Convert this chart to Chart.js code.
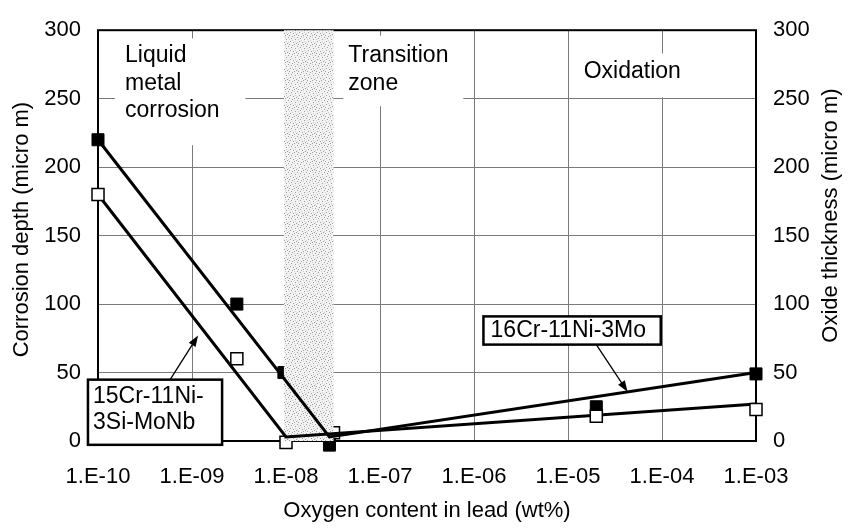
<!DOCTYPE html>
<html>
<head>
<meta charset="utf-8">
<script src="https://cdn.jsdelivr.net/npm/chart.js@4.4.1/dist/chart.umd.min.js"></script>
<style>
  html, body { margin: 0; padding: 0; background: #fff; }
  #wrap { width: 848px; height: 531px; }
</style>
</head>
<body>
<div id="wrap"><canvas id="chart"></canvas></div>
<script>
// valori: ossigeno (wt%) sull'asse x, profondita' (micro m) sugli assi y
const xTicks = [1e-10, 1e-9, 1e-8, 1e-7, 1e-6, 1e-5, 1e-4, 1e-3];
const xTickLabels = ['1.E-10', '1.E-09', '1.E-08', '1.E-07', '1.E-06', '1.E-05', '1.E-04', '1.E-03'];
const yTicks = [0, 50, 100, 150, 200, 250, 300];

// 16Cr-11Ni-3Mo (quadrati pieni)
const moX = [1e-10, 3e-9, 9.5e-9, 2.9e-8, 2e-5, 1e-3];
const moY = [220, 100, 50, -3, 25, 49];
// 15Cr-11Ni-3Si-MoNb (quadrati vuoti)
const nbX = [1e-10, 3e-9, 1e-8, 3.2e-8, 2e-5, 1e-3];
const nbY = [180, 60, -1, 6, 18, 23];

// linee di tendenza
const moTrendX = [1e-10, 2.9e-8, 1e-3];
const moTrendY = [220, 3, 50];
const nbTrendX = [1e-10, 1e-8, 1e-3];
const nbTrendY = [180, 3, 27];

// zona di transizione (wt%)
const zone = [9.5e-9, 3.2e-8];

const regionText = [['Liquid', 'metal', 'corrosion'], ['Transition', 'zone'], ['Oxidation']];
const steelNames = [['15Cr-11Ni-', '3Si-MoNb'], ['16Cr-11Ni-3Mo']];
const leftTitle = 'Corrosion depth (micro m)';
const rightTitle = 'Oxide thickness (micro m)';

const FONT = "'Liberation Sans', Arial, sans-serif";

const pts = (xs, ys) => xs.map((x, i) => ({ x: x, y: ys[i] }));
const inZone = p => p.x >= zone[0] && p.x <= zone[1];

const moPts = pts(moX, moY);
const nbPts = pts(nbX, nbY);

const filled = { pointStyle: 'rect', pointRadius: 8.5, pointHoverRadius: 8.5,
  backgroundColor: '#000', borderColor: '#000', borderWidth: 1, showLine: false, clip: false };
const open = { pointStyle: 'rect', pointRadius: 8.5, pointHoverRadius: 8.5,
  backgroundColor: '#fff', borderColor: '#000', borderWidth: 1.5, showLine: false, clip: false };
const trend = { showLine: true, pointRadius: 0, borderColor: '#000', borderWidth: 3,
  tension: 0, clip: false, fill: false };

const datasets = [
  Object.assign({ label: 'mo-under', data: moPts.filter(inZone), order: 12 }, filled),
  Object.assign({ label: 'nb-under', data: nbPts.filter(inZone), order: 11 }, open),
  Object.assign({ label: 'mo-trend', data: pts(moTrendX, moTrendY), order: 6 }, trend),
  Object.assign({ label: 'nb-trend', data: pts(nbTrendX, nbTrendY), order: 5 }, trend),
  Object.assign({ label: '16Cr-11Ni-3Mo', data: moPts.filter(p => !inZone(p)), order: 2 }, filled),
  Object.assign({ label: '15Cr-11Ni-3Si-MoNb', data: nbPts.filter(p => !inZone(p)), order: 1 }, open)
];

// trama puntinata per la zona di transizione
function speckle(ctx) {
  const c = document.createElement('canvas');
  c.width = 9; c.height = 9;
  const g = c.getContext('2d');
  g.fillStyle = '#f3f3f3';
  g.fillRect(0, 0, 9, 9);
  g.fillStyle = '#9c9c9c';
  [[0, 1], [4, 0], [7, 3], [2, 5], [8, 7], [5, 6], [3, 2], [6, 8], [1, 8]].forEach(d => g.fillRect(d[0], d[1], 1, 1));
  g.fillStyle = '#d0d0d0';
  [[6, 1], [1, 3], [4, 4], [0, 6], [7, 5]].forEach(d => g.fillRect(d[0], d[1], 1, 1));
  return ctx.createPattern(c, 'repeat');
}

function vText(ctx, s, cx, cy) {
  ctx.save();
  ctx.translate(cx, cy);
  ctx.rotate(-Math.PI / 2);
  ctx.font = '22px ' + FONT;
  ctx.fillStyle = '#000';
  ctx.textAlign = 'center';
  ctx.textBaseline = 'middle';
  ctx.fillText(s, 0, 0);
  ctx.restore();
}

const overlay = {
  id: 'overlay',
  beforeDatasetsDraw(chart) {
    const { ctx, chartArea: a, scales: { x, y } } = chart;
    // riquadri bianchi delle scritte, coprono la griglia
    const boxes = [[1.52e-10, 3.7e-9, 294, 216], [4.07e-8, 7.7e-7, 296, 244.5], [1.07e-5, 2.0e-4, 283, 251]];
    const textAt = [[1.94e-10, 276.5], [4.6e-8, 276.5], [1.47e-5, 265]];
    ctx.save();
    boxes.forEach((b, i) => {
      const l = x.getPixelForValue(b[0]), r = x.getPixelForValue(b[1]);
      const t = y.getPixelForValue(b[2]), bt = y.getPixelForValue(b[3]);
      ctx.fillStyle = '#fff';
      ctx.fillRect(l, t, r - l, bt - t);
      ctx.fillStyle = '#000';
      ctx.font = '23px ' + FONT;
      ctx.textBaseline = 'alphabetic';
      ctx.textAlign = 'left';
      const tx = x.getPixelForValue(textAt[i][0]);
      const ty = y.getPixelForValue(textAt[i][1]);
      regionText[i].forEach((s, k) => ctx.fillText(s, tx, ty + k * 27.5));
    });
    ctx.strokeStyle = '#000';
    ctx.lineWidth = 2;
    ctx.strokeRect(a.left, a.top, a.right - a.left, a.bottom - a.top);
    ctx.restore();
    // titoli verticali, entrambi letti dal basso verso l'alto
    vText(ctx, leftTitle, 22, a.top + (a.bottom - a.top) / 2 - 6);
    vText(ctx, rightTitle, 831, a.top + (a.bottom - a.top) / 2 - 20);
  },
  afterDatasetDraw(chart, args) {
    if (chart.data.datasets[args.index].label !== 'nb-under') return;
    const { ctx, chartArea: a, scales: { x } } = chart;
    const l = x.getPixelForValue(zone[0]), r = x.getPixelForValue(zone[1]);
    ctx.save();
    ctx.fillStyle = speckle(ctx);
    ctx.fillRect(l, a.top, r - l, a.bottom - a.top);
    ctx.restore();
  },
  afterDatasetsDraw(chart) {
    const { ctx, scales: { x, y } } = chart;
    const callouts = [
      { box: [7.82e-11, 2.09e-9, 44.8, -2.8], text: [8.85e-11, 27.9], tail: [5.85e-10, 44.8], head: [1.16e-9, 77] },
      { box: [1.26e-6, 9.7e-5, 91, 70.4], text: [1.5e-6, 76], tail: [2e-5, 70.4], head: [4.3e-5, 36] }
    ];
    ctx.save();
    callouts.forEach((c, i) => {
      const px = v => x.getPixelForValue(v), py = v => y.getPixelForValue(v);
      // freccia
      const x0 = px(c.tail[0]), y0 = py(c.tail[1]), x1 = px(c.head[0]), y1 = py(c.head[1]);
      const ang = Math.atan2(y1 - y0, x1 - x0);
      ctx.strokeStyle = '#000';
      ctx.lineWidth = 1.3;
      ctx.beginPath();
      ctx.moveTo(x0, y0);
      ctx.lineTo(x1 - 8 * Math.cos(ang), y1 - 8 * Math.sin(ang));
      ctx.stroke();
      ctx.fillStyle = '#000';
      ctx.beginPath();
      ctx.moveTo(x1, y1);
      ctx.lineTo(x1 - 11 * Math.cos(ang) + 4 * Math.sin(ang), y1 - 11 * Math.sin(ang) - 4 * Math.cos(ang));
      ctx.lineTo(x1 - 11 * Math.cos(ang) - 4 * Math.sin(ang), y1 - 11 * Math.sin(ang) + 4 * Math.cos(ang));
      ctx.closePath();
      ctx.fill();
      // riquadro
      const l = px(c.box[0]), r = px(c.box[1]), t = py(c.box[2]), b = py(c.box[3]);
      ctx.fillStyle = '#fff';
      ctx.fillRect(l, t, r - l, b - t);
      ctx.lineWidth = 2.5;
      ctx.strokeRect(l, t, r - l, b - t);
      ctx.fillStyle = '#000';
      ctx.font = '23px ' + FONT;
      ctx.textAlign = 'left';
      ctx.textBaseline = 'alphabetic';
      steelNames[i].forEach((s, k) => ctx.fillText(s, px(c.text[0]), py(c.text[1]) + k * 26.5));
    });
    ctx.restore();
  }
};

const tickFont = { family: FONT, size: 22 };
const titleFont = { family: FONT, size: 22 };

new Chart(document.getElementById('chart'), {
  type: 'scatter',
  data: { datasets: datasets },
  options: {
    responsive: true,
    maintainAspectRatio: false,
    animation: false,
    events: [],
    layout: { padding: { top: 19, left: 0, right: 0, bottom: 0 } },
    plugins: { legend: { display: false }, tooltip: { enabled: false } },
    scales: {
      x: {
        type: 'logarithmic',
        min: xTicks[0],
        max: xTicks[xTicks.length - 1],
        afterBuildTicks: s => { s.ticks = xTicks.map(v => ({ value: v })); },
        afterFit: s => { s.height = 90; },
        ticks: { autoSkip: false, maxRotation: 0, padding: 23, color: '#000', font: tickFont,
          callback: (v, i) => xTickLabels[i] },
        grid: { color: '#7a7a7a', lineWidth: 1, drawTicks: false },
        border: { display: false },
        title: { display: true, text: 'Oxygen content in lead (wt%)', color: '#000', font: titleFont,
          padding: { top: 0, bottom: 7 } }
      },
      y: {
        position: 'left',
        min: 0, max: 300,
        afterBuildTicks: s => { s.ticks = yTicks.map(v => ({ value: v })); },
        afterFit: s => { s.width = 98; },
        ticks: { padding: 17, color: '#000', font: tickFont },
        grid: { color: '#7a7a7a', lineWidth: 1, drawTicks: false },
        border: { display: false }
      },
      y1: {
        position: 'right',
        min: 0, max: 300,
        afterBuildTicks: s => { s.ticks = yTicks.map(v => ({ value: v })); },
        afterFit: s => { s.width = 92; },
        ticks: { padding: 17, color: '#000', font: tickFont },
        grid: { drawOnChartArea: false, drawTicks: false },
        border: { display: false }
      }
    }
  },
  plugins: [overlay]
});
</script>
</body>
</html>
